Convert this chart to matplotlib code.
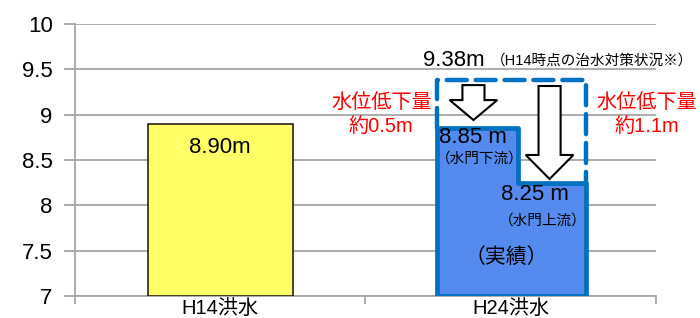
import matplotlib
matplotlib.use("Agg")
import matplotlib.pyplot as plt
from matplotlib.patches import Polygon

plt.rcParams["font.family"] = ["Liberation Sans", "Noto Sans CJK JP"]

categories = ["H14洪水", "H24洪水"]
h14_level = 8.90
h24_downstream = 8.85
h24_upstream = 8.25
h14_condition = 9.38
y_ticks = [7, 7.5, 8, 8.5, 9, 9.5, 10]

GRID = "#A6A6A6"
BLUE_EDGE = "#0070C0"
BLUE_FILL = "#558BEF"
RED = "#FF0000"


def block_arrow(ax, x, y_top, y_tip, shaft=0.038, head=0.082, head_len=0.23):
    base = y_tip + head_len
    pts = [(x - shaft, y_top), (x + shaft, y_top), (x + shaft, base), (x + head, base),
           (x, y_tip), (x - head, base), (x - shaft, base)]
    ax.add_patch(Polygon(pts, closed=True, facecolor="white", edgecolor="black",
                         linewidth=1.5, zorder=5))


fig = plt.figure(figsize=(7, 3.18), dpi=100)
ax = fig.add_axes([0.107, 0.069, 0.83, 0.856])
ax.set_xlim(0, 2)
ax.set_ylim(7, 10)

# H14 bar
ax.bar(0.5, h14_level - 7, bottom=7, width=0.5, color="#FFFF66",
       edgecolor="#111111", linewidth=1.1, zorder=3)
ax.text(0.5, h14_level - 0.26, f"{h14_level:.2f}m", ha="center", va="center",
        fontsize=16, zorder=6)

# H24 stepped bar
x0, x1 = 1.245, 1.759
xs = 1.524
shape = [(x0, 7), (x0, h24_downstream), (xs, h24_downstream), (xs, h24_upstream),
         (x1, h24_upstream), (x1, 7)]
ax.add_patch(Polygon(shape, closed=True, facecolor=BLUE_FILL, edgecolor=BLUE_EDGE,
                     linewidth=3.4, joinstyle="round", zorder=3))

# dashed outline of H14-era condition
ax.plot([x0, x0, x1, x1], [h24_downstream, h14_condition, h14_condition, h24_upstream],
        color=BLUE_EDGE, linewidth=3.2, linestyle=(0, (4.5, 2)), zorder=4,
        solid_joinstyle="round", dash_capstyle="round")

block_arrow(ax, 1.372, h14_condition - 0.055, h24_downstream + 0.09, head_len=0.22)
block_arrow(ax, 1.634, h14_condition - 0.065, h24_upstream + 0.04, head_len=0.265)

# texts
ax.text(1.197, h14_condition + 0.22, f"{h14_condition:.2f}m", ha="left", va="center",
        fontsize=16)
ax.text(1.432, h14_condition + 0.215, "（H14時点の治水対策状況※）", ha="left", va="center",
        fontsize=10.5, clip_on=False)

ax.text(1.055, 9.13, "水位低下量", ha="center", va="center", fontsize=14.5, color=RED)
ax.text(1.055, 8.855, "約0.5m", ha="center", va="center", fontsize=14.5, color=RED)
ax.text(1.969, 9.13, "水位低下量", ha="center", va="center", fontsize=14.5, color=RED,
        clip_on=False)
ax.text(1.969, 8.855, "約1.1m", ha="center", va="center", fontsize=14.5, color=RED,
        clip_on=False)

ax.text(1.252, h24_downstream - 0.1, f"{h24_downstream:.2f} m", ha="left", va="center",
        fontsize=16, zorder=6)
ax.text(1.243, h24_downstream - 0.34, "（水門下流）", ha="left", va="center",
        fontsize=10.5, zorder=6)
ax.text(1.466, h24_upstream - 0.136, f"{h24_upstream:.2f} m", ha="left", va="center",
        fontsize=16, zorder=6)
ax.text(1.458, h24_upstream - 0.423, "（水門上流）", ha="left", va="center",
        fontsize=10.5, zorder=6)
ax.text(1.486, 7.43, "（実績）", ha="center", va="center", fontsize=15, zorder=6)

# axes styling
ax.set_yticks(y_ticks)
ax.set_yticklabels([f"{v:g}" for v in y_ticks])
ax.yaxis.grid(True, color=GRID, linewidth=1.3)
ax.set_axisbelow(True)
ax.tick_params(axis="y", length=8, width=1.3, color=GRID, labelsize=16, pad=8)

ax.set_xticks([0, 1, 2])
ax.set_xticklabels([])
ax.set_xticks([0.5, 1.5], minor=True)
ax.set_xticklabels(categories, minor=True, fontsize=14.5)
ax.tick_params(axis="x", which="major", length=6, width=1.3, color=GRID)
ax.tick_params(axis="x", which="minor", length=0, pad=2)

for side in ("top", "right"):
    ax.spines[side].set_visible(False)
for side in ("left", "bottom"):
    ax.spines[side].set_color(GRID)
    ax.spines[side].set_linewidth(1.3)

fig.savefig("out.png", dpi=100)
